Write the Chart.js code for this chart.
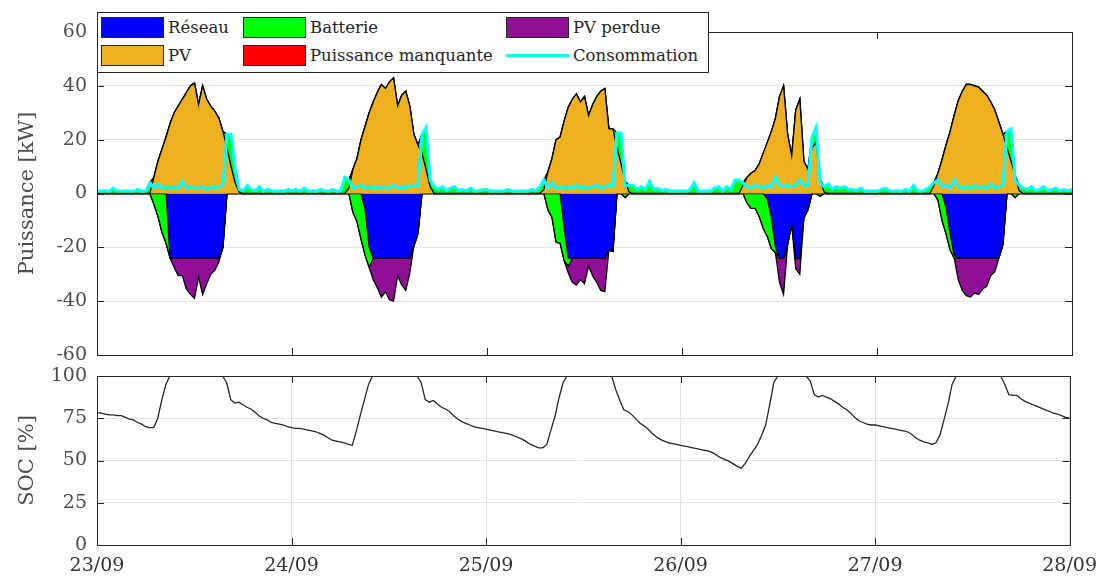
<!DOCTYPE html>
<html lang="fr">
<head>
<meta charset="utf-8">
<title>Puissance et SOC</title>
<script src="https://cdn.jsdelivr.net/npm/chart.js@4.4.1/dist/chart.umd.min.js"></script>
<style>
  html, body { margin: 0; padding: 0; background: #fff; }
  body { position: relative; width: 1107px; height: 578px; overflow: hidden; font-family: "DejaVu Serif", serif; }
  #puissance { position: absolute; left: 0; top: 0; }
  #soc { position: absolute; left: 0; top: 350px; }
  #legende { position: absolute; left: 97px; top: 12px; width: 610px; height: 59px;
             border: 1px solid #262626; background: #fff; z-index: 2; }
  .item { position: absolute; height: 21px; display: flex; align-items: center;
          font-size: 16.5px; color: #262626; white-space: nowrap; }
  .case { width: 63px; height: 21px; border: 1px solid #262626; box-sizing: border-box; margin-right: 4px; }
  .trait { width: 63px; height: 3px; margin-right: 4px; }
</style>
</head>
<body>
<canvas id="puissance" width="1107" height="382"></canvas>
<canvas id="soc" width="1107" height="228"></canvas>
<div id="legende"></div>
<script>
// pas de temps des séries : 30 min, du 23/09 00:00 au 28/09 00:00
const pas = 0.5;
const jours = ['23/09', '24/09', '25/09', '26/09', '27/09', '28/09'];

// puissances en kW, une ligne par jour (48 points) + dernier point
const pv = [
  0,0,0,0,0,0,0,0,0,0,0,0,0, 0,6,12,16.5,21,26,30,32.5,35,37.5,40,41,33,40,35,32.5,30.5,28,23,17,10,4,0.5, 0,0,0,0,0,0,0,0,0,0,0,0,
  0,0,0,0,0,0,0,0,0,0,0,0,0, 0,2,9,13,20,25,30,34,37.5,40.5,39,41.5,43,32.5,36.5,38,32.5,22,18,15,9,2.5,0, 0,0,0,0,0,0,0,0,0,0,0,0,
  0,0,0,0,0,0,0,0,0,0,0,0,0, 0,1.5,8,13,20,21,27,32,35,37,34,36,29,33,36,38,39,24,24,17,11,4.5,0.5, 0,0,0,0,0,0,0,0,0,0,0,0,
  0,0,0,0,0,0,0,0,0,0,0,0,0, 0,0,3,6,7.5,8.5,11,15,19,23,28,36,40,22,14,31,35,12,9,17,19,5,0.5, 0,0,0,0,0,0,0,0,0,0,0,0,
  0,0,0,0,0,0,0,0,0,0,0,0,0, 0,3,7.5,12.5,18,23,29,34.5,38,40.5,40.5,40,39.5,38,36.5,34,31,26.5,22,17,12,6.5,1, 0,0,0,0,0,0,0,0,0,0,0,0,
  0
];

const consommation = [
  1,0.8,1,0.8,2,0.8,0.8,1,0.8,0.8,1.5,0.8,1, 4,2,3.5,2,2.5,2,2.5,2,4.5,2,2.5,2,2,2.5,1.5,2.5,2,2.5,3,22,22,9,1.5, 1,3,1.5,1,2.5,0.8,1.5,1,0.8,1,0.8,1.5,
  1,1.5,0.8,2,0.8,1,0.8,1.5,1,0.8,1.5,0.8,1, 6,5,2,2.5,3,2,2.5,2,2.5,2,2.5,2,3,2,2.5,2,3,2.5,3,22,24.5,5,2.5, 1.5,2.5,1,2,2.5,1,1.5,1,2,0.8,1,1.5,
  1.5,0.8,1,0.8,0.8,1.5,1,0.8,0.8,1,0.8,1.5,1, 2.5,5,2,4,2,2.5,2,2.5,2,3,2,2.5,2,2.5,3,2,2.5,3,2.5,22.5,22.5,3,3, 3,1.5,2.5,1.5,4.5,1.5,2,1,1.5,0.8,1,0.8,
  1,0.8,1.5,4,0.8,0.8,1,0.8,2,2.5,0.8,2.5,1.5, 5,5,4,2.5,2,3,2.5,2,3,2.5,6,3,2.5,3,2.5,3,5,3,3,21,24.5,4,2.5, 3.5,1.5,2.5,2,2.5,1.5,1.5,1,2,0.8,1,0.8,
  0.8,1.5,2,1,0.8,1,0.8,1.5,0.8,3,1,0.8,1.5, 2.5,4,5,2.5,3,2,5,2.5,2,2.5,2,3,2,2.5,2,3.5,2,2.5,3,23,24,5,3, 2,1.5,2.5,1,1.5,2.5,1,1.5,2,1,1.5,1,
  1.5
];

// batterie : > 0 décharge, < 0 charge
const batterie = [
  1,0.8,1,0.8,2,0.8,0.8,1,0.8,0.8,1.5,0.8,1, 4,-4,-8.5,-14.5,-18.5, 0,0,0,0,0,0,0,0,0,0,0,0,0,0, 5,12,5,1, 1,3,1.5,1,2.5,0.8,1.5,1,0.8,1,0.8,1.5,
  1,1.5,0.8,2,0.8,1,0.8,1.5,1,0.8,1.5,0.8,1, 6,3,-7,-10.5,-17,-17,-7.5, 0,0,0,0,0,0,0,0,0,0,0,0, 7,15.5,2.5,2.5, 1.5,2.5,1,2,2.5,1,1.5,1,2,0.8,1,1.5,
  1.5,0.8,1,0.8,0.8,1.5,1,0.8,0.8,1,0.8,1.5,1, 2.5,3.5,-6,-9,-18,-18.5,-12,-3, 0,0,0,0,0,0,0,0,0,0,0, 5.5,11.5,-1.5,2.5, 3,1.5,2.5,1.5,4.5,1.5,2,1,1.5,0.8,1,0.8,
  1,0.8,1.5,4,0.8,0.8,1,0.8,2,2.5,0.8,2.5,1.5, 5,5,1,-3.5,-5.5,-5.5,-8.5,-13,-14,-11.5,-2, 0,0,0,0,0,0,0,0, 4,5.5,-1,2, 3.5,1.5,2.5,2,2.5,1.5,1.5,1,2,0.8,1,0.8,
  0.8,1.5,2,1,0.8,1,0.8,1.5,0.8,3,1,0.8,1.5, 2.5,1,-2.5,-10,-10,-6,-1, 0,0,0,0,0,0,0,0,0,0,0,0, 6,12,-1.5,2, 2,1.5,2.5,1,1.5,2.5,1,1.5,2,1,1.5,1,
  1.5
];

// injection réseau (négatif), plafonnée à 24 kW
const reseau = [
  0,0,0,0,0,0, 0,0,0,0,0,0, 0,0,0,0,0,0, -24,-24,-24,-24,-24,-24,-24,-24,-24,-24,-24,-24,-24, -20, 0,0,0,0,0,0, 0,0,0,0,0,0, 0,0,0,0,
  0,0,0,0,0,0, 0,0,0,0,0,0, 0,0,0,0,0,0, -6,-20, -24,-24,-24,-24,-24,-24,-24,-24,-24,-24, -19.5,-15, 0,0,0,0,0,0, 0,0,0,0,0,0, 0,0,0,0,
  0,0,0,0,0,0, 0,0,0,0,0,0, 0,0,0,0,0,0, 0, -13, -24,-24,-24,-24,-24,-24,-24,-24,-24,-24, -21,-21.5, 0,0,0,0,0,0, 0,0,0,0,0,0, 0,0,0,0,
  0,0,0,0,0,0, 0,0,0,0,0,0, 0,0,0,0,0,0, 0,0,0, -2,-9,-20,-24,-24,-19,-11.5,-24,-24,-9,-6, 0,0,0,0,0,0, 0,0,0,0,0,0, 0,0,0,0,
  0,0,0,0,0,0, 0,0,0,0,0,0, 0,0,0,0,0, -5,-15,-23, -24,-24,-24,-24,-24,-24,-24,-24,-24,-24,-24, -19, 0,0,0,0,0,0, 0,0,0,0,0,0, 0,0,0,0,
  0
];

const pvPerdue = [
  0,0,0,0,0,0, 0,0,0,0,0,0, 0,0,0,0,0,0, 0, -3.5,-6.5,-6.5,-11.5,-13.5,-15,-7,-13.5,-9.5,-6,-4.5,-1.5, 0,0,0,0,0,0, 0,0,0,0,0,0, 0,0,0,0,0,
  0,0,0,0,0,0, 0,0,0,0,0,0, 0,0,0,0,0,0, 0,0, -8,-11,-14.5,-12.5,-15.5,-16,-6.5,-10,-12,-5.5, 0,0,0,0,0,0, 0,0,0,0,0,0, 0,0,0,0,0,0,
  0,0,0,0,0,0, 0,0,0,0,0,0, 0,0,0,0,0,0, 0,0, -2.5,-9,-10,-8,-9.5,-3,-6.5,-9,-12,-12.5, 0,0,0,0,0,0, 0,0,0,0,0,0, 0,0,0,0,0,0,
  0,0,0,0,0,0, 0,0,0,0,0,0, 0,0,0,0,0,0, 0,0,0,0,0,0, -9,-13.5,0,0,-4,-6, 0,0,0,0,0,0, 0,0,0,0,0,0, 0,0,0,0,0,0,
  0,0,0,0,0,0, 0,0,0,0,0,0, 0,0,0,0,0,0, 0,0, -8,-12,-14,-14.5,-13,-13.5,-11.5,-10.5,-6.5,-5, 0,0,0,0,0,0, 0,0,0,0,0,0, 0,0,0,0,0,0,
  0
];

// aucune puissance manquante sur la période
const manquante = pv.map(() => 0);

// état de charge en %
const soc = [
  78.5,78,77.5,77,77,76.5,76.5,75.5,74.5,74,72.5,71.5,70,69.5,69.5,75,86,95, 100,100,100,100,100,100,100,100,100,100,100,100,100,100, 96,86,84,84.5,83,81.5,80.5,78.5,76.5,75,74,72.5,72,71.5,71,70,
  69.5,69,69,68.5,68,67.5,67,66,65,63.5,62,61.5,61,60.5,59.5,59,67.5,77,86,95, 100,100,100,100,100,100,100,100,100,100,100,100, 96,86,84.5,85.5,83.5,81.5,80.5,79,76.5,74.5,73,72,71,70,69.5,69,
  68.5,68,67.5,67,66.5,66,65.5,64.5,63.5,62.5,61,59.5,58.5,57.5,57.5,59.5,68,76,87,96, 100,100,100,100,100,100,100,100,100,100,100,100, 92,85.5,80,79,77,74.5,72,70.5,68.5,66,64,62.5,61.5,60.5,60,59.5,
  59,58.5,58,57.5,57,56.5,56,55.5,54.5,53,51.5,50.5,49.5,48,46.5,45.5,48.5,52.5,56,59.5,65,71,83,96, 100,100,100,100,100,100,100,100, 97,89,87.5,88.5,87.5,86.5,85,83.5,81.5,80,78,75.5,73.5,72.5,71.5,71,
  71,70.5,70,69.5,69,68.5,68,67.5,67,65.5,63.5,62,61,60.5,59.5,60.5,65,74,83.5,95, 100,100,100,100,100,100,100,100,100,100,100,100, 95,89,88.5,88.5,86.5,85,84,83,82,81,80,79,78,77.5,76.5,75.5,
  75
];

[pv, consommation, batterie, reseau, pvPerdue, soc].forEach((s, k) => {
  if (s.length !== 241) throw new Error('serie ' + k + ' : ' + s.length + ' points');
});

const couleurs = {
  reseau: '#0000ff', pv: '#edb120', batterie: '#00ff00',
  manquante: '#ff0000', perdue: '#910f96', conso: '#00ffff'
};

const t = pv.map((_, i) => i * pas);
const pts = arr => arr.map((y, i) => ({ x: t[i], y }));

// empilement : au-dessus de 0 PV puis décharge batterie, en dessous réseau, charge batterie, PV perdue
const hautBatt = pv.map((v, i) => v + Math.max(batterie[i], 0));
const hautManq = hautBatt.map((v, i) => v + manquante[i]);
const basBatt = reseau.map((v, i) => v + Math.min(batterie[i], 0));
const basPerdue = basBatt.map((v, i) => v + pvPerdue[i]);

Chart.defaults.font.family = '"DejaVu Serif", serif';

// cadre complet et graduations vers l'intérieur
const cadre = {
  id: 'cadre',
  afterDraw(chart) {
    const { ctx, chartArea: a, scales: { x, y } } = chart;
    const L = 7;
    ctx.save();
    ctx.strokeStyle = '#262626';
    ctx.lineWidth = 1;
    ctx.beginPath();
    x.ticks.forEach(tk => {
      const px = Math.round(x.getPixelForValue(tk.value)) + 0.5;
      ctx.moveTo(px, a.bottom); ctx.lineTo(px, a.bottom - L);
      ctx.moveTo(px, a.top); ctx.lineTo(px, a.top + L);
    });
    y.ticks.forEach(tk => {
      const py = Math.round(y.getPixelForValue(tk.value)) + 0.5;
      ctx.moveTo(a.left, py); ctx.lineTo(a.left + L, py);
      ctx.moveTo(a.right, py); ctx.lineTo(a.right - L, py);
    });
    ctx.stroke();
    ctx.strokeRect(Math.round(a.left) + 0.5, Math.round(a.top) + 0.5, Math.round(a.width), Math.round(a.height));
    ctx.restore();
  }
};

const aire = (label, data, color, fill) => ({
  label, data: pts(data), backgroundColor: color, borderColor: '#000',
  borderWidth: 1.3, pointRadius: 0, tension: 0, fill
});

const policeTicks = { size: 19 };
const gris = '#4d4d4d';

new Chart(document.getElementById('puissance'), {
  type: 'line',
  data: {
    datasets: [
      { label: 'Consommation', data: pts(consommation), borderColor: couleurs.conso, borderWidth: 3, pointRadius: 0, fill: false },
      aire('PV', pv, couleurs.pv, 'origin'),
      aire('Batterie', hautBatt, couleurs.batterie, 1),
      aire('Réseau', reseau, couleurs.reseau, 'origin'),
      aire('Batterie', basBatt, couleurs.batterie, 3),
      aire('Puissance manquante', hautManq, couleurs.manquante, 2),
      aire('PV perdue', basPerdue, couleurs.perdue, 4)
    ]
  },
  options: {
    responsive: false,
    animation: false,
    devicePixelRatio: 1,
    events: [],
    layout: { padding: { top: 32, right: 35, bottom: 27, left: 0 } },
    plugins: { legend: { display: false }, tooltip: { enabled: false } },
    scales: {
      x: {
        type: 'linear', min: 0, max: 120,
        ticks: { display: false, stepSize: 24 },
        grid: { display: false },
        border: { display: false },
        afterFit: s => { s.height = 0; }
      },
      y: {
        min: -60, max: 60,
        ticks: { stepSize: 20, color: gris, font: policeTicks, padding: 10 },
        grid: { color: '#e3e3e3', drawTicks: false },
        border: { display: false },
        title: { display: true, text: 'Puissance [kW]', color: gris, font: { size: 21 }, padding: { top: 15 } },
        afterFit: s => { s.width = 97; }
      }
    }
  },
  plugins: [cadre]
});

new Chart(document.getElementById('soc'), {
  type: 'line',
  data: {
    datasets: [
      { label: 'SOC', data: pts(soc), borderColor: '#262626', borderWidth: 1.3, pointRadius: 0, fill: false }
    ]
  },
  options: {
    responsive: false,
    animation: false,
    devicePixelRatio: 1,
    events: [],
    layout: { padding: { top: 26, right: 35, bottom: 0, left: 0 } },
    plugins: { legend: { display: false }, tooltip: { enabled: false } },
    scales: {
      x: {
        type: 'linear', min: 0, max: 120,
        ticks: { stepSize: 24, autoSkip: false, maxRotation: 0, color: '#333', font: policeTicks, padding: 10,
                 callback: v => jours[v / 24] },
        grid: { color: '#e3e3e3', drawTicks: false },
        border: { display: false },
        afterFit: s => { s.height = 33; }
      },
      y: {
        min: 0, max: 100,
        ticks: { stepSize: 25, color: gris, font: policeTicks, padding: 10 },
        grid: { color: '#e3e3e3', drawTicks: false },
        border: { display: false },
        title: { display: true, text: 'SOC [%]', color: gris, font: { size: 21 }, padding: { top: 15 } },
        afterFit: s => { s.width = 97; }
      }
    }
  },
  plugins: [cadre]
});

// légende sur deux lignes, trois colonnes, dans le coin haut gauche
const legende = [
  { nom: 'Réseau', couleur: couleurs.reseau },
  { nom: 'PV', couleur: couleurs.pv },
  { nom: 'Batterie', couleur: couleurs.batterie },
  { nom: 'Puissance manquante', couleur: couleurs.manquante },
  { nom: 'PV perdue', couleur: couleurs.perdue },
  { nom: 'Consommation', couleur: couleurs.conso, trait: true }
];
const colonnes = [3, 145, 408];
const lignes = [4, 32];
const boite = document.getElementById('legende');
legende.forEach((e, i) => {
  const item = document.createElement('div');
  item.className = 'item';
  item.style.left = colonnes[Math.floor(i / 2)] + 'px';
  item.style.top = lignes[i % 2] + 'px';
  const marque = document.createElement('span');
  marque.className = e.trait ? 'trait' : 'case';
  marque.style.background = e.couleur;
  item.appendChild(marque);
  item.appendChild(document.createTextNode(e.nom));
  boite.appendChild(item);
});
</script>
</body>
</html>
